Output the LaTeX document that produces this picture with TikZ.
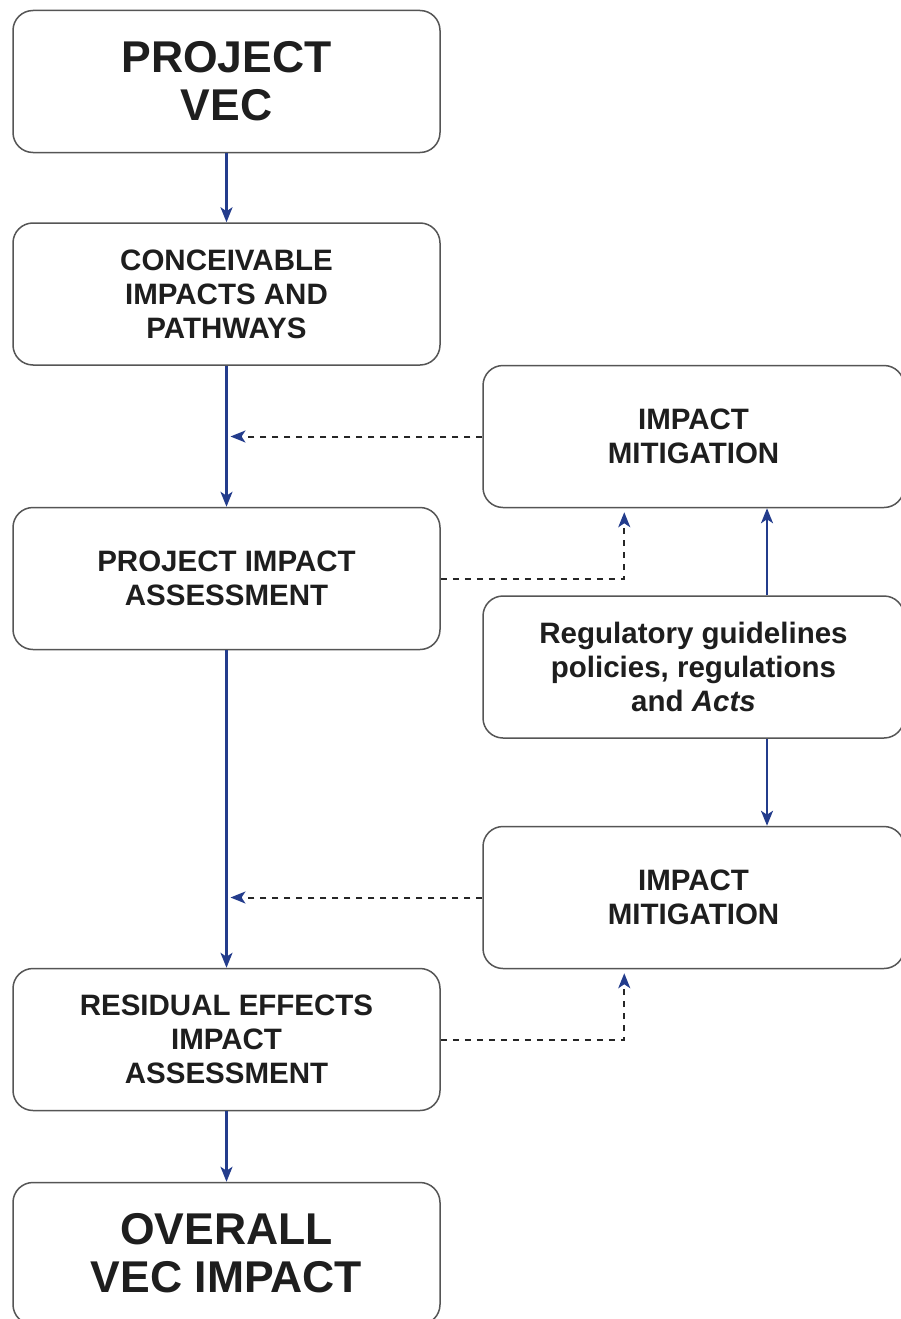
\documentclass[tikz,border=0pt]{standalone}
\usepackage{fontspec}
\setmainfont{Liberation Sans}
\usepackage{tikz}
\usetikzlibrary{arrows.meta, positioning, calc}
\definecolor{flowblue}{RGB}{35,60,140}
\definecolor{boxgray}{RGB}{85,85,85}
\definecolor{textgray}{RGB}{30,30,30}

\begin{document}
\begin{tikzpicture}[x=1pt, y=-1pt, >={Stealth[length=15pt, width=12pt, inset=4pt]},
  stage/.style={draw=boxgray, line width=1.5pt, rounded corners=20pt, fill=white,
    minimum width=427pt, minimum height=142pt, inner sep=0pt, align=center,
    text=textgray, font=\fontsize{29.5}{34}\selectfont\bfseries},
  bigstage/.style={stage, font=\fontsize{44.5}{48}\selectfont\bfseries},
  side/.style={stage, minimum width=421pt},
  flow/.style={->, draw=flowblue, line width=2.2pt},
  feed/.style={-{Stealth[length=15pt, width=12pt, inset=4pt, color=flowblue]},
    draw=black!85, line width=2pt, dash pattern=on 6pt off 6pt, shorten >=4pt}]
  \path[use as bounding box, fill=white] (0,0) rectangle (900,1319);

  % Main chain
  \node[bigstage] (vec) at (226.5,81.5) {PROJECT\\VEC};
  \node[stage] (paths) at (226.5,294) {CONCEIVABLE\\IMPACTS AND\\PATHWAYS};
  \node[stage] (pia) at (226.5,578.5) {PROJECT IMPACT\\ASSESSMENT};
  \node[stage] (resid) at (226.5,1039.5) {RESIDUAL EFFECTS\\IMPACT\\ASSESSMENT};
  \node[bigstage] (overall) at (226.5,1253.5) {OVERALL\\VEC IMPACT};

  % Side column
  \node[side] (mitA) at (693.5,436.5) {IMPACT\\MITIGATION};
  \node[side] (regs) at (693.5,667) {Regulatory guidelines\\policies, regulations\\and \textit{Acts}};
  \node[side] (mitB) at (693.5,897.5) {IMPACT\\MITIGATION};

  \coordinate (joinA) at (paths.south |- mitA.west);
  \coordinate (joinB) at (pia.south |- mitB.west);
  \coordinate (upA) at ([xshift=142pt]mitA.south west);
  \coordinate (upB) at ([xshift=142pt]mitB.south west);

  \draw[flow] (vec.south) -- (paths.north);
  \draw[flow] (paths.south) -- (pia.north);
  \draw[flow] (pia.south) -- (resid.north);
  \draw[flow] (resid.south) -- (overall.north);

  % Mitigation loops
  \draw[feed] (mitA.west) -- (joinA);
  \draw[feed] (pia.east) -| (upA);
  \draw[flow] ([xshift=73.5pt]regs.north) -- ([xshift=73.5pt]mitA.south);
  \draw[flow] ([xshift=73.5pt]regs.south) -- ([xshift=73.5pt]mitB.north);
  \draw[feed] (mitB.west) -- (joinB);
  \draw[feed] (resid.east) -| (upB);
\end{tikzpicture}
\end{document}
